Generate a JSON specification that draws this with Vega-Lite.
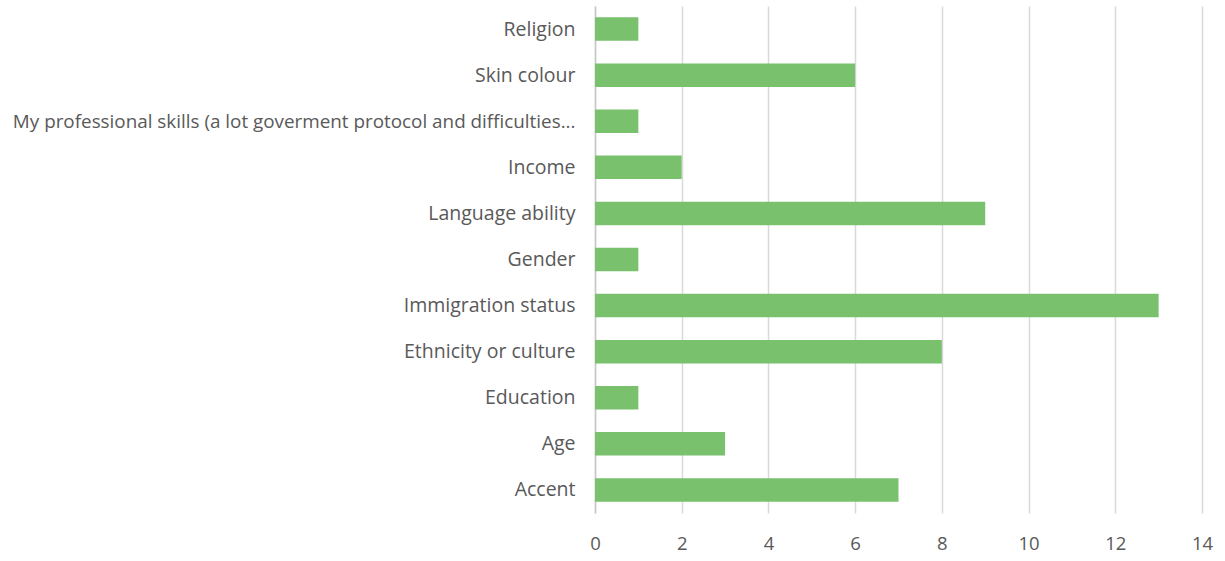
{
  "$schema": "https://vega.github.io/schema/vega-lite/v6.json",
  "autosize": {"type": "none"},
  "padding": {"left": 595, "top": 6, "right": 23, "bottom": 48},
  "width": 607,
  "height": 507,
  "background": "white",
  "data": {"values": [
    {"reason": "Religion", "count": 1},
    {"reason": "Skin colour", "count": 6},
    {"reason": "My professional skills (a lot goverment protocol and difficulties...", "count": 1},
    {"reason": "Income", "count": 2},
    {"reason": "Language ability", "count": 9},
    {"reason": "Gender", "count": 1},
    {"reason": "Immigration status", "count": 13},
    {"reason": "Ethnicity or culture", "count": 8},
    {"reason": "Education", "count": 1},
    {"reason": "Age", "count": 3},
    {"reason": "Accent", "count": 7}
  ]},
  "mark": {"type": "bar", "color": "#79C16D"},
  "encoding": {
    "y": {
      "field": "reason", "type": "nominal", "sort": null,
      "scale": {"paddingInner": 0.49, "paddingOuter": 0.245},
      "axis": {
        "title": null, "domain": true, "domainColor": "#C8C8C8", "domainWidth": 1.5,
        "ticks": false, "labelPadding": 20, "labelLimit": 0,
        "labelFont": "Open Sans", "labelColor": "#595959",
        "labelFontSize": {"expr": "length(datum.label) > 40 ? 18.85 : 19.5"},
        "labelOffset": 0.5
      }
    },
    "x": {
      "field": "count", "type": "quantitative",
      "scale": {"domain": [0, 14], "nice": false},
      "axis": {
        "title": null, "values": [0, 2, 4, 6, 8, 10, 12, 14],
        "domain": false, "ticks": false, "grid": true, "labelFlush": false,
        "gridColor": "#D9D9D9", "gridWidth": 1.5,
        "labelPadding": 21, "labelFont": "Open Sans", "labelFontSize": 18.5,
        "labelColor": "#595959"
      }
    }
  },
  "config": {"view": {"stroke": null}}
}
